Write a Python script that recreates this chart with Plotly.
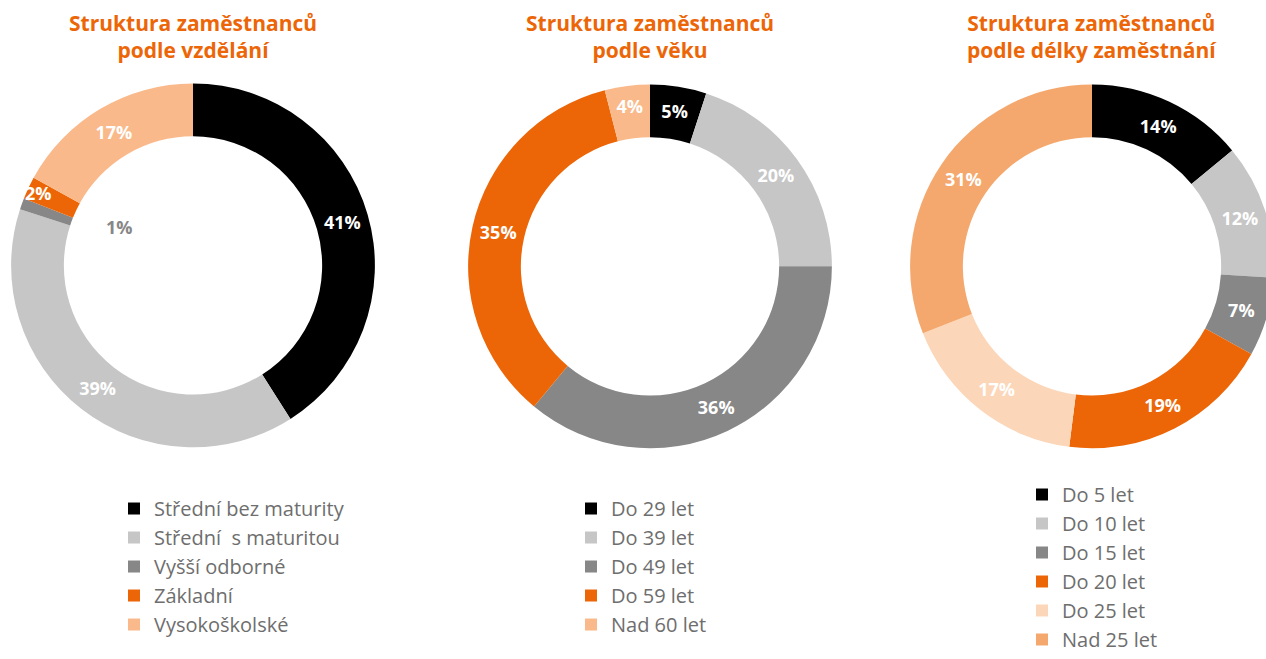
import plotly.graph_objects as go

W, H = 1300, 659

titles = ["Struktura zaměstnanců<br>podle vzdělání",
          "Struktura zaměstnanců<br>podle věku",
          "Struktura zaměstnanců<br>podle délky zaměstnání"]

edu_labels = ["Střední bez maturity", "Střední  s maturitou", "Vyšší odborné", "Základní", "Vysokoškolské"]
edu_values = [41, 39, 1, 2, 17]

age_labels = ["Do 29 let", "Do 39 let", "Do 49 let", "Do 59 let", "Nad 60 let"]
age_values = [5, 20, 36, 35, 4]

ten_labels = ["Do 5 let", "Do 10 let", "Do 15 let", "Do 20 let", "Do 25 let", "Nad 25 let"]
ten_values = [14, 12, 7, 19, 17, 31]

BLACK, LGRAY, DGRAY, ORANGE, PEACH = "#000000", "#C6C6C6", "#878787", "#EC6608", "#F9B98A"
LPEACH, MPEACH = "#FCD6B8", "#F4A86D"

edu_colors = [BLACK, LGRAY, DGRAY, ORANGE, PEACH]
age_colors = [BLACK, LGRAY, DGRAY, ORANGE, PEACH]
ten_colors = [BLACK, LGRAY, DGRAY, ORANGE, LPEACH, MPEACH]

# pixel geometry (left, right, top, bottom) of each ring
boxes = [(10, 376, 84, 450), (467, 833, 85, 451), (909, 1275, 85, 451)]
centers_x = [193, 650, 1092]
legend_pos = [(114, 492), (571, 492), (1022, 478)]

datasets = [(edu_labels, edu_values, edu_colors),
            (age_labels, age_values, age_colors),
            (ten_labels, ten_values, ten_colors)]

fig = go.Figure()
for i, ((labels, values, colors), (l, r, t, b)) in enumerate(zip(datasets, boxes)):
    legname = "legend" if i == 0 else f"legend{i+1}"
    textpos = ["none" if v < 2 and i == 0 else "inside" for v in values]
    fig.add_trace(go.Pie(
        labels=labels, values=values, sort=False, direction="clockwise",
        rotation=0, hole=0.71,
        marker=dict(colors=colors, line=dict(width=0)),
        texttemplate="%{value}%", textposition=textpos,
        insidetextorientation="horizontal",
        textfont=dict(family="Open Sans", size=18, color="white", weight="bold"),
        domain=dict(x=[l / W, r / W], y=[(H - b) / H, (H - t) / H]),
        legend=legname, hoverinfo="label+value",
    ))

legend_common = dict(font=dict(family="Open Sans", size=20, color="#6E6E6E"),
                     bgcolor="rgba(0,0,0,0)", xanchor="left", yanchor="top",
                     itemclick=False, itemdoubleclick=False)
for i, (lx, ly) in enumerate(legend_pos):
    key = "legend" if i == 0 else f"legend{i+1}"
    fig.update_layout({key: dict(x=lx / W, y=(H - ly) / H, **legend_common)})

for cx, title in zip(centers_x, titles):
    fig.add_annotation(text=title, x=cx / W, y=(H - 7) / H, xref="paper", yref="paper",
                       xanchor="center", yanchor="top", showarrow=False,
                       font=dict(family="Open Sans", size=21, color="#EC6608", weight="bold"))

# label for the thin 1 % slice, drawn in the hole
fig.add_annotation(text=f"{edu_values[2]}%", x=104 / W, y=(H - 228) / H, xref="paper", yref="paper",
                   showarrow=False, font=dict(family="Open Sans", size=18, color=DGRAY, weight="bold"))

fig.update_layout(width=W, height=H, margin=dict(l=0, r=0, t=0, b=0),
                  paper_bgcolor="white", plot_bgcolor="white",
                  uniformtext=dict(minsize=18, mode="show"), showlegend=True)

fig.write_html("out.html", config={"displayModeBar": False},
               post_script="document.documentElement.style.overflow='hidden';document.body.style.overflow='hidden';document.body.style.margin='0';")
